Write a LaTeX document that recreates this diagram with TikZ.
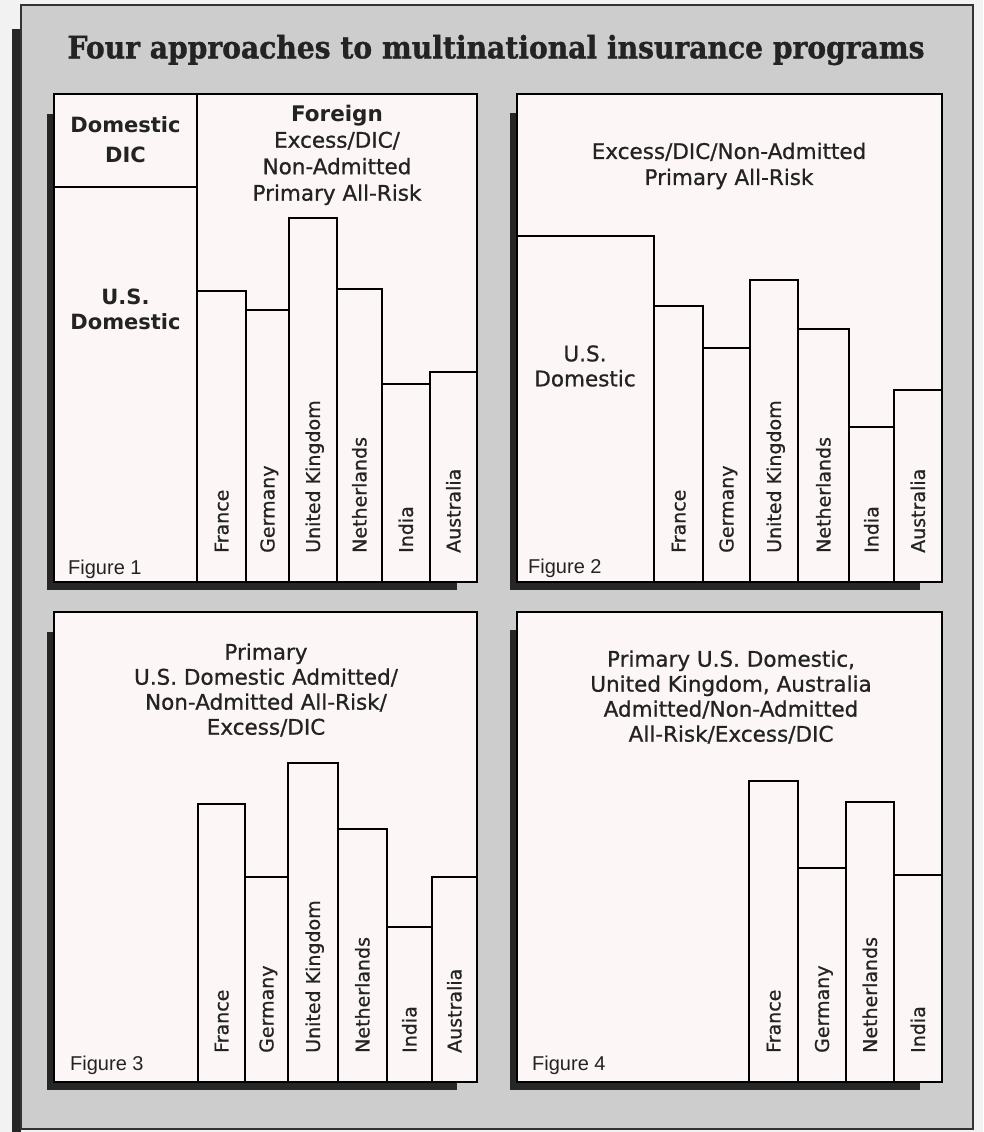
\documentclass[tikz,border=0pt]{standalone}
\usepackage{graphicx}
\usepackage{fontspec}
\setmainfont[UprightFeatures={FakeBold=0.8}]{DejaVu Sans}
\newfontfamily\titlefont[BoldFeatures={FakeBold=1.2}]{DejaVu Serif}
\newfontfamily\figfont{Liberation Sans}
\definecolor{bgc}{RGB}{205,205,205}
\definecolor{marginc}{RGB}{242,242,242}
\definecolor{panelc}{RGB}{252,246,246}
\definecolor{ink}{RGB}{35,35,35}
\tikzset{
  panel/.style={draw=black, line width=2pt, fill=panelc},
  bar/.style={draw=black, line width=2pt, fill=panelc},
  lab/.style={font=\fontsize{21.5}{26}\selectfont, text=ink, align=center, inner sep=0pt},
  boldlab/.style={font=\fontsize{21}{27}\selectfont\bfseries, text=ink, align=center, inner sep=0pt},
  country/.style={font=\fontsize{19}{24}\selectfont, text=ink, rotate=90, anchor=west, inner sep=0pt, text height=13.9pt, text depth=0pt},
  figlab/.style={font=\figfont\fontsize{20}{22}\selectfont, text=ink, anchor=base west, inner sep=0pt},
}
\begin{document}
\begin{tikzpicture}[x=1pt,y=-1pt]
\useasboundingbox (0,0) rectangle (983,1132);
% background and outer frame
\fill[marginc] (0,0) rectangle (983,1132);
\fill[bgc] (21,5) rectangle (973,1129);
\fill[black!85] (12,29) rectangle (21,1132);
\draw[black!80, line width=1.6pt] (21,5) rectangle (973,1129);

% title
\node[font=\titlefont\bfseries\fontsize{29}{34}\selectfont, text=ink, inner sep=0pt] (title) at (496,50)
  {\scalebox{1}[1.1]{\resizebox{857pt}{!}{Four approaches to multinational insurance programs}}};

% ---------- shadows ----------
\fill[black!85] (47,114) rectangle (457,590);
\fill[black!85] (510,113) rectangle (920,590);
\fill[black!85] (47,632) rectangle (457,1090);
\fill[black!85] (510,630) rectangle (920,1090);

% ---------- Figure 1 ----------
\draw[panel] (54,94) rectangle (477,582);
\draw[black, line width=2pt] (197,94) -- (197,582);
\draw[black, line width=2pt] (54,187) -- (197,187);
\draw[bar] (197,582) rectangle (246,291);
\draw[bar] (246,582) rectangle (289,310);
\draw[bar] (289,582) rectangle (337,218);
\draw[bar] (337,582) rectangle (382,289);
\draw[bar] (382,582) rectangle (430,384);
\draw[bar] (430,582) rectangle (477,372);
\node[boldlab, font=\fontsize{21}{30}\selectfont\bfseries] (p1dic) at (125.5,140) {Domestic\\DIC};
\node[boldlab, font=\fontsize{21}{25}\selectfont\bfseries] (p1us) at (125.5,309) {U.S.\\Domestic};
\node[lab, font=\fontsize{21.5}{26.5}\selectfont] (p1head) at (337,155) {\textbf{Foreign}\\Excess/DIC/\\Non-Admitted\\Primary All-Risk};
\node[country] (p1fr) at (221.5,553) {France};
\node[country] (p1de) at (267.5,553) {Germany};
\node[country] (p1uk) at (313,553) {United Kingdom};
\node[country] (p1nl) at (359.5,553) {Netherlands};
\node[country] (p1in) at (406,553) {India};
\node[country] (p1au) at (453.5,553) {Australia};
\node[figlab] (p1fig) at (68,574) {Figure 1};

% ---------- Figure 2 ----------
\draw[panel] (517,94) rectangle (942,582);
\draw[bar] (517,582) rectangle (654,236);
\draw[bar] (654,582) rectangle (703,306);
\draw[bar] (703,582) rectangle (750,348);
\draw[bar] (750,582) rectangle (798,280);
\draw[bar] (798,582) rectangle (849,329);
\draw[bar] (849,582) rectangle (894,427);
\draw[bar] (894,582) rectangle (942,390);
\node[lab] (p2head) at (729,166) {Excess/DIC/Non-Admitted\\Primary All-Risk};
\node[lab, font=\fontsize{21.5}{25}\selectfont] (p2us) at (585,366) {U.S.\\Domestic};
\node[country] (p2fr) at (678.5,553) {France};
\node[country] (p2de) at (726.5,553) {Germany};
\node[country] (p2uk) at (774,553) {United Kingdom};
\node[country] (p2nl) at (823.5,553) {Netherlands};
\node[country] (p2in) at (871.5,553) {India};
\node[country] (p2au) at (918,553) {Australia};
\node[figlab] (p2fig) at (528,573) {Figure 2};

% ---------- Figure 3 ----------
\draw[panel] (54,612) rectangle (477,1082);
\draw[bar] (198,1082) rectangle (245,804);
\draw[bar] (245,1082) rectangle (288,877);
\draw[bar] (288,1082) rectangle (338,763);
\draw[bar] (338,1082) rectangle (387,829);
\draw[bar] (387,1082) rectangle (432,927);
\draw[bar] (432,1082) rectangle (477,877);
\node[lab, font=\fontsize{21.5}{25}\selectfont] (p3head) at (266,690) {Primary\\U.S. Domestic Admitted/\\Non-Admitted All-Risk/\\Excess/DIC};
\node[country] (p3fr) at (221.5,1053) {France};
\node[country] (p3de) at (266.5,1053) {Germany};
\node[country] (p3uk) at (313,1053) {United Kingdom};
\node[country] (p3nl) at (362.5,1053) {Netherlands};
\node[country] (p3in) at (409.5,1053) {India};
\node[country] (p3au) at (454.5,1053) {Australia};
\node[figlab] (p3fig) at (70,1070) {Figure 3};

% ---------- Figure 4 ----------
\draw[panel] (517,612) rectangle (942,1082);
\draw[bar] (749,1082) rectangle (798,781);
\draw[bar] (798,1082) rectangle (846,868);
\draw[bar] (846,1082) rectangle (894,802);
\draw[bar] (894,1082) rectangle (942,875);
\node[lab, font=\fontsize{21.5}{25}\selectfont] (p4head) at (731,697) {Primary U.S. Domestic,\\United Kingdom, Australia\\Admitted/Non-Admitted\\All-Risk/Excess/DIC};
\node[country] (p4fr) at (773.5,1053) {France};
\node[country] (p4de) at (822,1053) {Germany};
\node[country] (p4nl) at (870,1053) {Netherlands};
\node[country] (p4in) at (918,1053) {India};
\node[figlab] (p4fig) at (532,1070) {Figure 4};
\end{tikzpicture}
\end{document}
